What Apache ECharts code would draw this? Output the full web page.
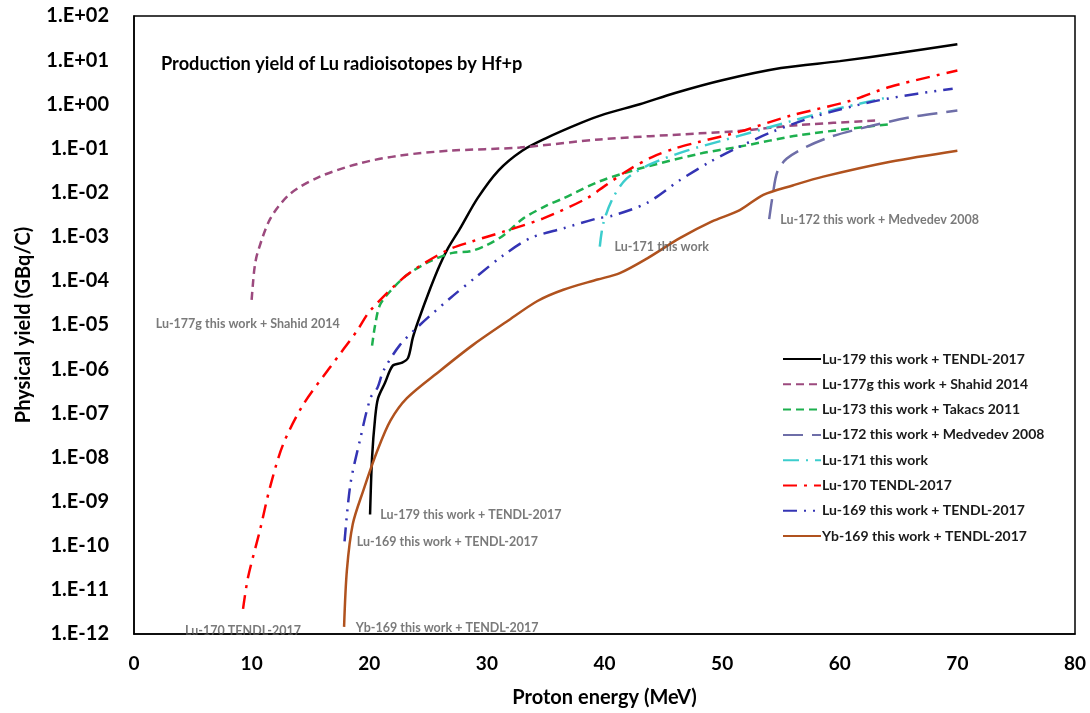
<!DOCTYPE html>
<html>
<head>
<meta charset="utf-8">
<script src="https://cdn.jsdelivr.net/npm/echarts@6/dist/echarts.min.js"></script>
<style>
html,body{margin:0;padding:0;background:#fff;}
#chart{width:1090px;height:713px;}
</style>
</head>
<body>
<div id="chart"></div>
<script>
// ---- data (energy in MeV, yield in GBq/C) ----
const lu179E = [20.07, 20.24, 20.5, 20.75, 21.34, 22.0, 22.8, 23.3, 23.7, 24.15, 25.2, 26.0, 26.7, 27.7, 29.2, 31, 33, 35, 38, 40, 43, 46, 50, 55, 60, 65, 70];
const lu179Y = [5.1e-10, 1.0e-8, 7.9e-8, 2.2e-7, 4.9e-7, 1.2e-6, 1.4e-6, 1.8e-6, 5.1e-6, 1.2e-5, 6.9e-5, 2.3e-4, 5.5e-4, 1.5e-3, 7.4e-3, 3.2e-2, 8.9e-2, 0.17, 0.38, 0.6, 1.0, 1.8, 3.5, 6.6, 9.5, 14.5, 23];

const lu177gE = [10.0, 10.1, 10.25, 10.5, 11.6, 13.3, 15.8, 19.2, 22.6, 26.9, 32.8, 39.6, 48.1, 51.5, 56.6, 63.2];
const lu177gY = [3.7e-5, 7.9e-5, 2.0e-4, 4.3e-4, 2.6e-3, 9.5e-3, 2.3e-2, 4.6e-2, 6.9e-2, 8.9e-2, 0.105, 0.16, 0.22, 0.25, 0.34, 0.43];

const lu173E = [20.24, 20.5, 20.9, 21.8, 23.2, 25.2, 27.1, 28.6, 30.0, 31.4, 33.1, 35.1, 36.5, 39.6, 43, 48.1, 51.5, 56.6, 64.5];
const lu173Y = [3.4e-6, 1.0e-5, 2.8e-5, 5.9e-5, 1.35e-4, 2.8e-4, 4.3e-4, 4.7e-4, 6.5e-4, 1.07e-3, 2.6e-3, 5.1e-3, 7.4e-3, 1.8e-2, 3.5e-2, 7.6e-2, 0.11, 0.2, 0.36];

const lu172E = [54.0, 54.3, 54.7, 55.5, 57.2, 59.4, 62.8, 66.2, 70];
const lu172Y = [2.5e-3, 8.7e-3, 3.0e-2, 5.9e-2, 0.11, 0.19, 0.33, 0.52, 0.72];

const lu171E = [39.6, 39.9, 40.7, 41.9, 44, 47, 50, 51.5, 55.8, 59.8, 64.3];
const lu171Y = [6.0e-4, 2.0e-3, 7.4e-3, 2.1e-2, 4.5e-2, 8.9e-2, 0.15, 0.195, 0.41, 0.79, 1.48];

const lu170E = [9.27, 9.7, 10.7, 11.56, 12.67, 14.37, 16.67, 18.96, 20.07, 23.2, 26.6, 28.8, 31.4, 34.8, 38.5, 40.0, 42, 44, 46, 48, 51.5, 55.8, 60.9, 64.3, 70];
const lu170Y = [3.7e-12, 1.95e-11, 2.2e-10, 2.1e-9, 1.95e-8, 1.55e-7, 1.1e-6, 7.4e-6, 2.1e-5, 1.35e-4, 4.9e-4, 7.9e-4, 1.3e-3, 2.6e-3, 7.4e-3, 1.4e-2, 3.2e-2, 6.3e-2, 0.1, 0.14, 0.24, 0.55, 1.2, 2.5, 5.8];

const lu169E = [17.9, 18.4, 19.2, 20.1, 20.7, 21.2, 22.6, 24.3, 26.9, 29.2, 31.4, 33.7, 36.5, 39.4, 40.7, 43.6, 46.4, 49, 51.5, 54.3, 58.1, 62.8, 66.6, 69.6];
const lu169Y = [1.26e-10, 2.5e-9, 2.4e-8, 2.2e-7, 3.8e-7, 9.1e-7, 3.5e-6, 1.0e-5, 4.1e-5, 1.3e-4, 3.8e-4, 9.3e-4, 1.55e-3, 2.6e-3, 3.0e-3, 5.8e-3, 1.9e-2, 5.0e-2, 0.11, 0.24, 0.55, 1.15, 1.74, 2.24];

const yb169E = [17.86, 18.1, 18.6, 19.5, 20.7, 21.8, 23.2, 26.0, 28.8, 31.7, 34.3, 36.5, 39.4, 41.3, 43.6, 46.4, 49.1, 51.5, 53.5, 56, 58.6, 64.3, 70];
const yb169Y = [1.45e-12, 2.8e-11, 3.1e-10, 1.8e-9, 1.45e-8, 6.8e-8, 2.2e-7, 9.1e-7, 3.5e-6, 1.2e-5, 3.5e-5, 6.3e-5, 1.07e-4, 1.5e-4, 3.2e-4, 9.3e-4, 2.2e-3, 4.0e-3, 8.9e-3, 1.45e-2, 2.3e-2, 5.0e-2, 8.9e-2];

const seriesNames = [
  'Lu-179 this work + TENDL-2017',
  'Lu-177g this work + Shahid 2014',
  'Lu-173 this work + Takacs 2011',
  'Lu-172 this work + Medvedev 2008',
  'Lu-171 this work',
  'Lu-170 TENDL-2017',
  'Lu-169 this work + TENDL-2017',
  'Yb-169 this work + TENDL-2017'
];

// annotation labels placed at data coordinates (left edge of text)
const noteTexts = [
  'Lu-177g this work + Shahid 2014',
  'Lu-170 TENDL-2017',
  'Lu-179 this work + TENDL-2017',
  'Lu-169 this work + TENDL-2017',
  'Yb-169 this work + TENDL-2017',
  'Lu-171 this work',
  'Lu-172 this work + Medvedev 2008'
];
const noteE = [1.8, 4.3, 20.9, 18.9, 18.8, 40.8, 54.9];
const noteY = [1.05e-5, 1.18e-12, 4.9e-10, 1.2e-10, 1.4e-12, 5.8e-4, 2.35e-3];

const xTicks = [0, 10, 20, 30, 40, 50, 60, 70, 80];

// ---- chart ----
const FONT = 'Lato';
const styles = [
  {color: '#000000', type: 'solid', width: 2.5},
  {color: '#9C4A7E', type: [8, 5], width: 2.5},
  {color: '#1DB04E', type: [8, 5], width: 2.5},
  {color: '#6E6EA8', type: [20, 9], width: 2.5},
  {color: '#3CCDCD', type: [16, 7, 2, 7], width: 2.5},
  {color: '#FF0000', type: [14, 7, 3, 7], width: 2.5},
  {color: '#3434B4', type: [14, 7, 2, 7, 2, 7], width: 2.5},
  {color: '#B0521E', type: 'solid', width: 2.5}
];
const xs = [lu179E, lu177gE, lu173E, lu172E, lu171E, lu170E, lu169E, yb169E];
const ys = [lu179Y, lu177gY, lu173Y, lu172Y, lu171Y, lu170Y, lu169Y, yb169Y];

const series = seriesNames.map((n, i) => ({
  name: n,
  type: 'line',
  data: xs[i].map((e, j) => [e, ys[i][j]]),
  showSymbol: false,
  symbol: 'none',
  smooth: 0.3,
  lineStyle: styles[i],
  itemStyle: {color: styles[i].color},
  z: 2,
  animation: false
}));

series.push({
  name: 'notes',
  type: 'scatter',
  symbolSize: 1,
  itemStyle: {color: 'rgba(0,0,0,0)'},
  silent: true,
  animation: false,
  data: noteTexts.map((t, i) => ({name: t, value: [noteE[i], noteY[i]]})),
  label: {
    show: true,
    position: 'right',
    distance: 0,
    formatter: p => p.name,
    fontFamily: FONT,
    fontWeight: 'bold',
    fontSize: 12.5,
    color: '#595959'
  },
  z: 5
});

function sciLabel(v) {
  const e = Math.round(Math.log10(v));
  const s = e < 0 ? '-' : '+';
  const a = Math.abs(e);
  return '1.E' + s + (a < 10 ? '0' + a : '' + a);
}

const chart = echarts.init(document.getElementById('chart'), null, {renderer: 'canvas'});
chart.setOption({
  backgroundColor: '#ffffff',
  animation: false,
  title: {
    text: 'Production yield of Lu radioisotopes by Hf+p',
    left: 156,
    top: 50,
    textStyle: {fontFamily: FONT, fontWeight: 'bold', fontSize: 18.2, color: '#000'}
  },
  legend: {
    data: seriesNames,
    orient: 'vertical',
    left: 777,
    top: 347,
    itemWidth: 38,
    itemHeight: 14,
    itemGap: 11.3,
    itemStyle: {opacity: 0},
    textStyle: {fontFamily: FONT, fontWeight: 'bold', fontSize: 14, color: '#1a1a1a', padding: [0, 0, 0, -4]},
    selectedMode: false
  },
  grid: {
    left: 134, right: 15, top: 16, bottom: 75,
    show: true, borderColor: '#000', borderWidth: 1.5, backgroundColor: '#fff'
  },
  xAxis: {
    type: 'value',
    min: xTicks[0],
    max: xTicks[xTicks.length - 1],
    interval: 10,
    name: 'Proton energy (MeV)',
    nameLocation: 'middle',
    nameGap: 54,
    nameTextStyle: {fontFamily: FONT, fontWeight: 'bold', fontSize: 20, color: '#000'},
    axisLine: {show: true, lineStyle: {color: '#000', width: 1.5}},
    axisTick: {show: false},
    splitLine: {show: false},
    axisLabel: {fontFamily: FONT, fontWeight: 'bold', fontSize: 19, color: '#000', margin: 20}
  },
  yAxis: {
    type: 'log',
    logBase: 10,
    min: 1e-12,
    max: 100,
    interval: 1,
    name: 'Physical yield (GBq/C)',
    nameLocation: 'middle',
    nameGap: 100,
    nameTextStyle: {fontFamily: FONT, fontWeight: 'bold', fontSize: 20, color: '#000'},
    axisLine: {show: true, lineStyle: {color: '#000', width: 1.5}},
    axisTick: {show: false},
    splitLine: {show: false},
    axisLabel: {fontFamily: FONT, fontWeight: 'bold', fontSize: 20, color: '#000', margin: 25, formatter: sciLabel}
  },
  series: series
});
</script>
</body>
</html>
